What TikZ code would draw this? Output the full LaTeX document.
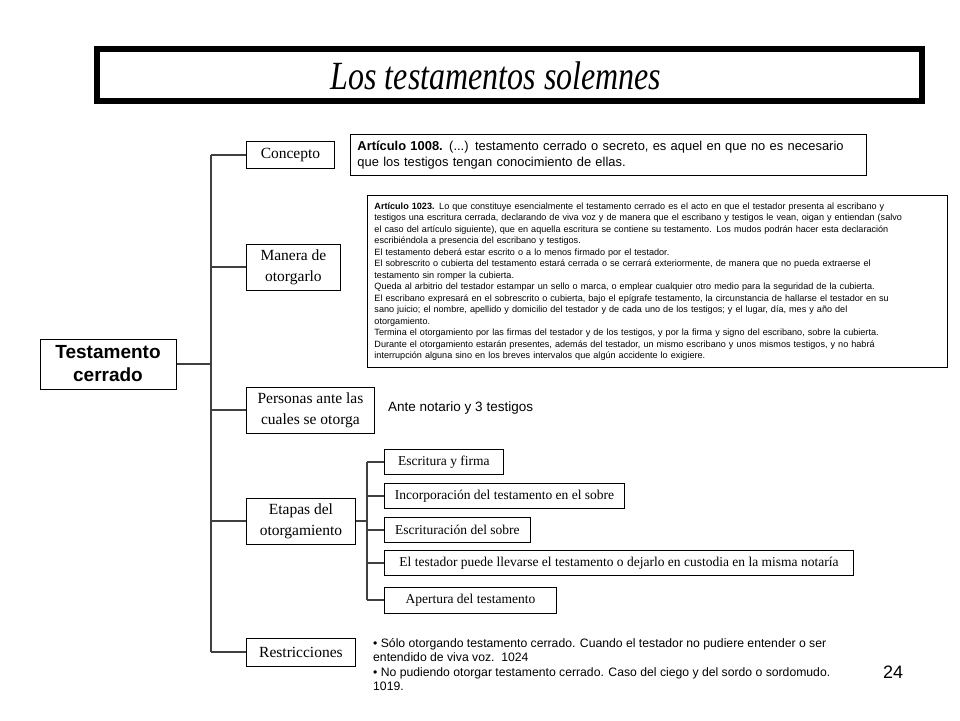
\documentclass[tikz,border=0pt]{standalone}
\usepackage{fontspec}
\usepackage{graphicx}
\setmainfont{Liberation Serif}
\setsansfont{Liberation Sans}
\begin{document}
\begin{tikzpicture}[x=1pt,y=-1pt,
  conn/.style={draw=black!75, line width=1.4pt},
  branchbox/.style={draw=black, line width=0.9pt, fill=white, inner sep=0pt, align=center,
    font=\rmfamily\fontsize{15.5}{21}\selectfont, anchor=west},
  subbox/.style={draw=black, line width=0.9pt, fill=white, inner sep=0pt, align=center,
    font=\rmfamily\fontsize{13.5}{15}\selectfont, anchor=west, minimum height=25},
  textbox/.style={draw=black, line width=0.9pt, fill=white, align=left, anchor=north west}
]
\useasboundingbox (0,0) rectangle (960,720);
\fill[white] (0,0) rectangle (960,720);

% title
\node[draw=black, line width=6pt, minimum width=825, minimum height=52, inner sep=0pt] (title) at (509.5,75) {};
\node[inner sep=0pt, font=\rmfamily\itshape\fontsize{40}{44}\selectfont] (titletext) at (496,75.5)
  {\scalebox{0.8}[1]{Los testamentos solemnes}};

% root
\node[draw=black, line width=1pt, minimum width=136, minimum height=50, inner sep=0pt, align=center,
  font=\sffamily\bfseries\fontsize{19}{23}\selectfont] (root) at (108,364) {Testamento\\cerrado};

% branches
\node[branchbox, minimum width=88, minimum height=27] (concepto) at (246,155) {Concepto};
\node[branchbox, minimum width=94, minimum height=46] (manera) at (246,267) {Manera de\\otorgarlo};
\node[branchbox, minimum width=128, minimum height=46] (personas) at (246,410) {Personas ante las\\cuales se otorga};
\node[branchbox, minimum width=109, minimum height=46] (etapas) at (246,521) {Etapas del\\otorgamiento};
\node[branchbox, minimum width=109, minimum height=28] (restr) at (246,652) {Restricciones};

\coordinate (tr) at (211,364);
\coordinate (trtop) at (211,155);
\coordinate (trbot) at (211,652);
\draw[conn] (root.east) -- (tr);
\draw[conn] (trtop) -- (trbot);
\draw[conn] (trtop) -- (concepto.west);
\draw[conn] (211,267) -- (manera.west);
\draw[conn] (211,410) -- (personas.west);
\draw[conn] (211,521) -- (etapas.west);
\draw[conn] (trbot) -- (restr.west);

% concept text
\node[textbox, minimum width=516, minimum height=41, text width=502, inner xsep=7pt, inner ysep=3pt,
  font=\sffamily\fontsize{12.9}{16.5}\selectfont] (art1008) at (350,134)
  {\textbf{Artículo 1008.} (...) testamento cerrado o secreto, es aquel en que no es necesario\\
   que los testigos tengan conocimiento de ellas.};

% article 1023
\node[textbox, minimum height=172, text width=566, inner xsep=7pt, inner ysep=2pt,
  font=\sffamily\fontsize{9.1}{11.5}\selectfont] (art1023) at (367,195)
  {\textbf{Artículo 1023.} Lo que constituye esencialmente el testamento cerrado es el acto en que el testador presenta al escribano y\\
   testigos una escritura cerrada, declarando de viva voz y de manera que el escribano y testigos le vean, oigan y entiendan (salvo\\
   el caso del artículo siguiente), que en aquella escritura se contiene su testamento. Los mudos podrán hacer esta declaración\\
   escribiéndola a presencia del escribano y testigos.\\
   El testamento deberá estar escrito o a lo menos firmado por el testador.\\
   El sobrescrito o cubierta del testamento estará cerrada o se cerrará exteriormente, de manera que no pueda extraerse el\\
   testamento sin romper la cubierta.\\
   Queda al arbitrio del testador estampar un sello o marca, o emplear cualquier otro medio para la seguridad de la cubierta.\\
   El escribano expresará en el sobrescrito o cubierta, bajo el epígrafe testamento, la circunstancia de hallarse el testador en su\\
   sano juicio; el nombre, apellido y domicilio del testador y de cada uno de los testigos; y el lugar, día, mes y año del\\
   otorgamiento.\\
   Termina el otorgamiento por las firmas del testador y de los testigos, y por la firma y signo del escribano, sobre la cubierta.\\
   Durante el otorgamiento estarán presentes, además del testador, un mismo escribano y unos mismos testigos, y no habrá\\
   interrupción alguna sino en los breves intervalos que algún accidente lo exigiere.};

% personas text
\node[anchor=west, inner sep=0pt, font=\sffamily\fontsize{13.5}{15}\selectfont] (ante) at (388,408) {Ante notario y 3 testigos};

% etapas sub-boxes
\node[subbox, minimum width=119] (s1) at (384,462) {Escritura y firma};
\node[subbox, minimum width=240] (s2) at (384,496) {Incorporación del testamento en el sobre};
\node[subbox, minimum width=146] (s3) at (384,530) {Escrituración del sobre};
\node[subbox, minimum width=469] (s4) at (384,563) {El testador puede llevarse el testamento o dejarlo en custodia en la misma notaría};
\node[subbox, minimum width=172, minimum height=26] (s5) at (384,600) {Apertura del testamento};

\coordinate (st) at (367,521);
\coordinate (sttop) at (367,462);
\coordinate (stbot) at (367,600);
\draw[conn] (etapas.east) -- (st);
\draw[conn] (sttop) -- (stbot);
\draw[conn] (sttop) -- (s1.west);
\draw[conn] (367,496) -- (s2.west);
\draw[conn] (367,530) -- (s3.west);
\draw[conn] (367,563) -- (s4.west);
\draw[conn] (stbot) -- (s5.west);

% restricciones text
\node[anchor=north west, inner sep=0pt, align=left, font=\sffamily\fontsize{12.2}{14.5}\selectfont] (restrtext) at (373,638)
  {• Sólo otorgando testamento cerrado. Cuando el testador no pudiere entender o ser\\
   entendido de viva voz.\ \ 1024\\
   • No pudiendo otorgar testamento cerrado. Caso del ciego y del sordo o sordomudo.\\
   1019.};

% page number
\node[inner sep=0pt, font=\sffamily\fontsize{18}{20}\selectfont] (pagenum) at (893,672) {24};
\end{tikzpicture}
\end{document}
